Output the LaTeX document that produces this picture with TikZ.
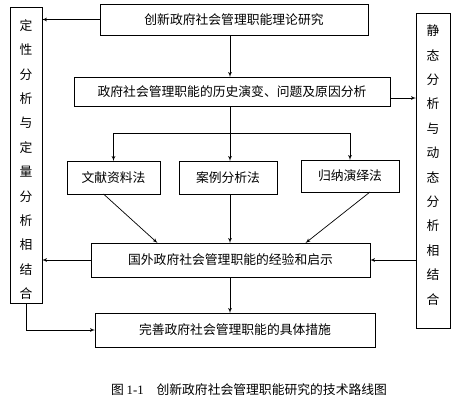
\documentclass[tikz,border=0pt]{standalone}
\usepackage{fontspec}
\setmainfont{Liberation Serif}
\newfontfamily\cjk{Noto Sans CJK SC}
\usepackage{tikz}
\usetikzlibrary{arrows}
\tikzstyle{line} = [draw, -latex', line width=0.7pt]
\tikzstyle{box} = [draw, line width=0.7pt, inner sep=0pt, outer sep=0pt]
\tikzstyle{vtext} = [align=center, inner sep=0pt, font=\cjk\fontsize{12.8}{24.4}\selectfont]

\begin{document}
\begin{tikzpicture}[x=1pt,y=-1pt]
	\tikzstyle{every node}=[font=\cjk\fontsize{12.8}{15}\selectfont]
	\useasboundingbox (0,0) rectangle (453,400);
	
	% ------------------- Main column ------------------- %
	\node[box, minimum width=268, minimum height=31] (theory) at (234,19.5) {创新政府社会管理职能理论研究};
	\node[box, minimum width=316, minimum height=29] (history) at (232,91.5) {政府社会管理职能的历史演变、问题及原因分析};
	
	\node[box, minimum width=93, minimum height=33] (docs) at (113.5,177.5) {文献资料法};
	\node[box, minimum width=98, minimum height=33] (cases) at (228,177.5) {案例分析法};
	\node[box, minimum width=98, minimum height=32] (induct) at (350,176) {归纳演绎法};
	
	\node[box, minimum width=279, minimum height=34] (abroad) at (230.5,260) {国外政府社会管理职能的经验和启示};
	\node[box, minimum width=280, minimum height=34] (measures) at (235,330) {完善政府社会管理职能的具体措施};
	
	% ------------------- Side boxes ------------------- %
	\node[box, minimum width=32, minimum height=296] (qual) at (26,155) {};
	\node[vtext] (qualtext) at (26,159.5) {定\\性\\分\\析\\与\\定\\量\\分\\析\\相\\结\\合};
	\node[box, minimum width=34, minimum height=315] (stat) at (433,170.5) {};
	\node[vtext] (stattext) at (433,165) {静\\态\\分\\析\\与\\动\\态\\分\\析\\相\\结\\合};
	
	% ------------------- Arrows ------------------- %
	\coordinate (spine) at (230,0);
	\coordinate (fork) at (230,133);
	\draw[line] (theory.west) -- (theory.west -| qual.east);
	\draw[line] (spine |- theory.south) -- (spine |- history.north);
	\draw[line] ([yshift=-6.5pt]history.east) -- ([yshift=-6.5pt]history.east -| stat.west);
	
	\draw[line width=0.7pt] (spine |- history.south) -- (fork);
	\draw[line width=0.7pt] (fork -| docs.north) -- (fork -| induct.north);
	\draw[line] (fork -| docs.north) -- (docs.north);
	\draw[line] (fork) -- (fork |- cases.north);
	\draw[line] (fork -| induct.north) -- (induct.north);
	
	\draw[line] ([xshift=-10pt]docs.south) -- ([xshift=-73pt]abroad.north);
	\draw[line] (spine |- cases.south) -- (spine |- abroad.north);
	\draw[line] ([xshift=20pt]induct.south) -- ([xshift=75pt]abroad.north);
	
	\draw[line] (abroad.west) -- (abroad.west -| qual.east);
	\draw[line] (abroad.east -| stat.west) -- (abroad.east);
	\draw[line] (spine |- abroad.south) -- (spine |- measures.north);
	\draw[line] (qual.south) -- (qual.south |- measures.west) -- (measures.west);
	
	% ------------------- Caption ------------------- %
	\node (caption) at (249,390) {图 {\rmfamily 1-1}\hspace{1em}创新政府社会管理职能研究的技术路线图};
\end{tikzpicture}
\end{document}
